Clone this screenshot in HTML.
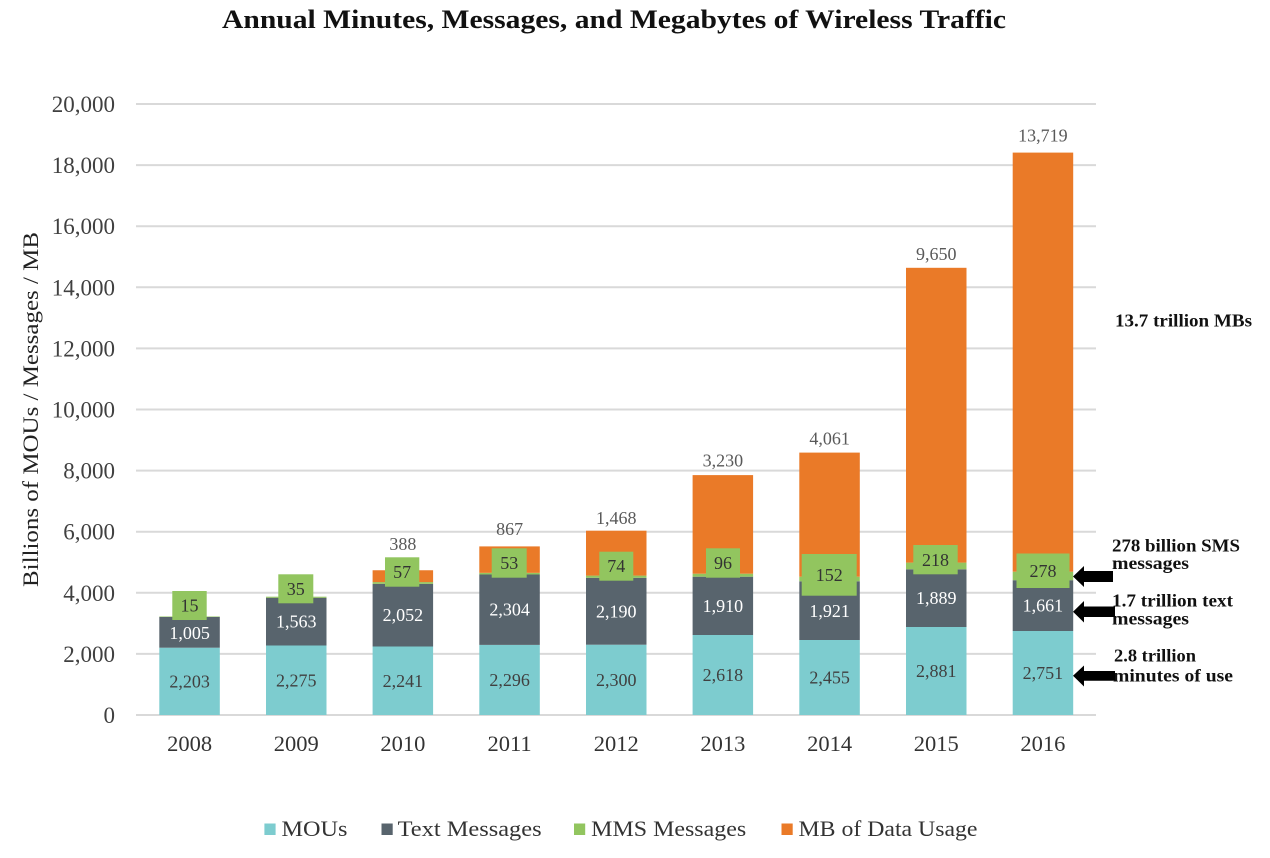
<!DOCTYPE html>
<html><head><meta charset="utf-8"><style>
html,body{margin:0;padding:0;background:#fff;}
svg{display:block;}
text{font-family:"Liberation Serif",serif;}
</style></head><body>
<svg width="1270" height="858" viewBox="0 0 1270 858" xmlns="http://www.w3.org/2000/svg">
<rect width="1270" height="858" fill="#fff"/>
<text x="222" y="28" font-size="26" font-weight="bold" fill="#111" textLength="784" lengthAdjust="spacingAndGlyphs">Annual Minutes, Messages, and Megabytes of Wireless  Traffic</text>

<!-- gridlines -->
<g stroke="#D9D9D9" stroke-width="2">
<line x1="136" y1="715" x2="1096" y2="715"/>
<line x1="136" y1="653.9" x2="1096" y2="653.9"/>
<line x1="136" y1="592.8" x2="1096" y2="592.8"/>
<line x1="136" y1="531.7" x2="1096" y2="531.7"/>
<line x1="136" y1="470.6" x2="1096" y2="470.6"/>
<line x1="136" y1="409.5" x2="1096" y2="409.5"/>
<line x1="136" y1="348.4" x2="1096" y2="348.4"/>
<line x1="136" y1="287.3" x2="1096" y2="287.3"/>
<line x1="136" y1="226.2" x2="1096" y2="226.2"/>
<line x1="136" y1="165.1" x2="1096" y2="165.1"/>
<line x1="136" y1="104" x2="1096" y2="104"/>
</g>

<!-- tick labels -->
<g font-size="23" fill="#404040" text-anchor="end">
<text x="115" y="723">0</text>
<text x="115" y="661.9">2,000</text>
<text x="115" y="600.8">4,000</text>
<text x="115" y="539.7">6,000</text>
<text x="115" y="478.6">8,000</text>
<text x="115" y="417.5">10,000</text>
<text x="115" y="356.4">12,000</text>
<text x="115" y="295.3">14,000</text>
<text x="115" y="234.2">16,000</text>
<text x="115" y="173.1">18,000</text>
<text x="115" y="112">20,000</text>
</g>

<text transform="translate(38,587) rotate(-90)" x="0" y="0" font-size="22" fill="#222" textLength="355" lengthAdjust="spacingAndGlyphs">Billions  of MOUs / Messages / MB</text>

<!-- bars -->
<g>
<!-- 2008 -->
<rect x="159.3" y="647.7" width="60.5" height="67.3" fill="#7DCCCF"/>
<rect x="159.3" y="617.0" width="60.5" height="30.7" fill="#58646D"/>
<rect x="159.3" y="616.5" width="60.5" height="0.5" fill="#92C55F"/>
<!-- 2009 -->
<rect x="266.0" y="645.5" width="60.5" height="69.5" fill="#7DCCCF"/>
<rect x="266.0" y="597.75" width="60.5" height="47.75" fill="#58646D"/>
<rect x="266.0" y="596.7" width="60.5" height="1.05" fill="#92C55F"/>
<!-- 2010 -->
<rect x="372.6" y="646.5" width="60.5" height="68.5" fill="#7DCCCF"/>
<rect x="372.6" y="583.85" width="60.5" height="62.65" fill="#58646D"/>
<rect x="372.6" y="582.1" width="60.5" height="1.75" fill="#92C55F"/>
<rect x="372.6" y="570.25" width="60.5" height="11.85" fill="#EA7A28"/>
<!-- 2011 -->
<rect x="479.3" y="644.9" width="60.5" height="70.1" fill="#7DCCCF"/>
<rect x="479.3" y="574.5" width="60.5" height="70.4" fill="#58646D"/>
<rect x="479.3" y="572.85" width="60.5" height="1.65" fill="#92C55F"/>
<rect x="479.3" y="546.4" width="60.5" height="26.45" fill="#EA7A28"/>
<!-- 2012 -->
<rect x="586.0" y="644.7" width="60.5" height="70.3" fill="#7DCCCF"/>
<rect x="586.0" y="577.8" width="60.5" height="66.9" fill="#58646D"/>
<rect x="586.0" y="575.6" width="60.5" height="2.2" fill="#92C55F"/>
<rect x="586.0" y="530.7" width="60.5" height="44.9" fill="#EA7A28"/>
<!-- 2013 -->
<rect x="692.6" y="635.0" width="60.5" height="80" fill="#7DCCCF"/>
<rect x="692.6" y="576.7" width="60.5" height="58.3" fill="#58646D"/>
<rect x="692.6" y="573.7" width="60.5" height="3" fill="#92C55F"/>
<rect x="692.6" y="475.1" width="60.5" height="98.6" fill="#EA7A28"/>
<!-- 2014 -->
<rect x="799.3" y="640.0" width="60.5" height="75" fill="#7DCCCF"/>
<rect x="799.3" y="581.3" width="60.5" height="58.7" fill="#58646D"/>
<rect x="799.3" y="576.7" width="60.5" height="4.6" fill="#92C55F"/>
<rect x="799.3" y="452.6" width="60.5" height="124.1" fill="#EA7A28"/>
<!-- 2015 -->
<rect x="906.0" y="627.0" width="60.5" height="88" fill="#7DCCCF"/>
<rect x="906.0" y="569.3" width="60.5" height="57.7" fill="#58646D"/>
<rect x="906.0" y="562.6" width="60.5" height="6.7" fill="#92C55F"/>
<rect x="906.0" y="267.8" width="60.5" height="294.8" fill="#EA7A28"/>
<!-- 2016 -->
<rect x="1012.7" y="631.0" width="60.5" height="84" fill="#7DCCCF"/>
<rect x="1012.7" y="580.2" width="60.5" height="50.8" fill="#58646D"/>
<rect x="1012.7" y="571.7" width="60.5" height="8.5" fill="#92C55F"/>
<rect x="1012.7" y="152.6" width="60.5" height="419.1" fill="#EA7A28"/>
</g>

<!-- MOU labels -->
<g font-size="18" fill="#404040" text-anchor="middle">
<text x="189.6" y="687.4">2,203</text>
<text x="296.2" y="686.3">2,275</text>
<text x="402.9" y="686.8">2,241</text>
<text x="509.6" y="686">2,296</text>
<text x="616.2" y="685.9">2,300</text>
<text x="722.9" y="681">2,618</text>
<text x="829.6" y="683.5">2,455</text>
<text x="936.2" y="677">2,881</text>
<text x="1042.9" y="679">2,751</text>
</g>
<!-- Text labels -->
<g font-size="18" fill="#fff" text-anchor="middle">
<text x="189.6" y="639">1,005</text>
<text x="296.2" y="627.6">1,563</text>
<text x="402.9" y="621.2">2,052</text>
<text x="509.6" y="615.7">2,304</text>
<text x="616.2" y="617.3">2,190</text>
<text x="722.9" y="611.9">1,910</text>
<text x="829.6" y="617">1,921</text>
<text x="936.2" y="604.2">1,889</text>
<text x="1042.9" y="611.6">1,661</text>
</g>
<!-- MMS label boxes -->
<g fill="#92C55F">
<rect x="172.3" y="591" width="34.4" height="29"/>
<rect x="278.3" y="574.3" width="35" height="29"/>
<rect x="385" y="557.3" width="34.3" height="29.4"/>
<rect x="491.7" y="548.3" width="35" height="29.4"/>
<rect x="599.3" y="551.7" width="34" height="29"/>
<rect x="706" y="548.3" width="34" height="29.4"/>
<rect x="801.7" y="554" width="55" height="41.7"/>
<rect x="913.3" y="545" width="44.4" height="29.3"/>
<rect x="1016.5" y="553.5" width="53" height="34.5"/>
</g>
<g font-size="18" fill="#333" text-anchor="middle">
<text x="189.5" y="611.5">15</text>
<text x="295.8" y="594.8">35</text>
<text x="402.1" y="578">57</text>
<text x="509.2" y="569">53</text>
<text x="616.3" y="572">74</text>
<text x="723" y="569">96</text>
<text x="829.2" y="581">152</text>
<text x="935.5" y="566">218</text>
<text x="1043" y="577">278</text>
</g>
<!-- Totals -->
<g font-size="18" fill="#595959" text-anchor="middle">
<text x="402.9" y="550">388</text>
<text x="509.6" y="535">867</text>
<text x="616.2" y="524">1,468</text>
<text x="722.9" y="466.7">3,230</text>
<text x="829.6" y="444.3">4,061</text>
<text x="936.2" y="260">9,650</text>
<text x="1042.9" y="141.7">13,719</text>
</g>

<!-- Year labels -->
<g font-size="22.5" fill="#333" text-anchor="middle">
<text x="189.6" y="751">2008</text>
<text x="296.2" y="751">2009</text>
<text x="402.9" y="751">2010</text>
<text x="509.6" y="751">2011</text>
<text x="616.2" y="751">2012</text>
<text x="722.9" y="751">2013</text>
<text x="829.6" y="751">2014</text>
<text x="936.2" y="751">2015</text>
<text x="1042.9" y="751">2016</text>
</g>

<!-- Annotations -->
<g font-size="18" font-weight="bold" fill="#111">
<text x="1115" y="326.7" textLength="137" lengthAdjust="spacingAndGlyphs">13.7 trillion MBs</text>
<text x="1112" y="551.7" textLength="128" lengthAdjust="spacingAndGlyphs">278 billion SMS</text>
<text x="1112" y="569" textLength="77" lengthAdjust="spacingAndGlyphs">messages</text>
<text x="1112" y="606.7" textLength="121" lengthAdjust="spacingAndGlyphs">1.7 trillion text</text>
<text x="1112" y="624.5" textLength="77" lengthAdjust="spacingAndGlyphs">messages</text>
<text x="1114" y="661.7" textLength="82" lengthAdjust="spacingAndGlyphs">2.8 trillion</text>
<text x="1113" y="681.5" textLength="120" lengthAdjust="spacingAndGlyphs">minutes of use</text>
</g>
<g fill="#000">
<polygon points="1073,576.5 1084,566 1084,571 1113,571 1113,582 1084,582 1084,587"/>
<polygon points="1073,611.7 1084,601 1084,606.5 1115,606.5 1115,617 1084,617 1084,622.5"/>
<polygon points="1073,675.8 1084,665.5 1084,671 1115,671 1115,680.7 1084,680.7 1084,686.5"/>
</g>

<!-- Legend -->
<rect x="264.4" y="823.5" width="11.2" height="11.5" fill="#7DCCCF"/>
<rect x="381.5" y="823.5" width="11.2" height="11.5" fill="#58646D"/>
<rect x="574" y="823.5" width="11.2" height="11.5" fill="#92C55F"/>
<rect x="781.5" y="823.5" width="11.2" height="11.5" fill="#EA7A28"/>
<g font-size="22" fill="#333">
<text x="281.5" y="836" textLength="66" lengthAdjust="spacingAndGlyphs">MOUs</text>
<text x="397.6" y="836" textLength="144" lengthAdjust="spacingAndGlyphs">Text Messages</text>
<text x="591.2" y="836" textLength="155" lengthAdjust="spacingAndGlyphs">MMS Messages</text>
<text x="798.5" y="836" textLength="179" lengthAdjust="spacingAndGlyphs">MB of Data Usage</text>
</g>
</svg>
</body></html>
